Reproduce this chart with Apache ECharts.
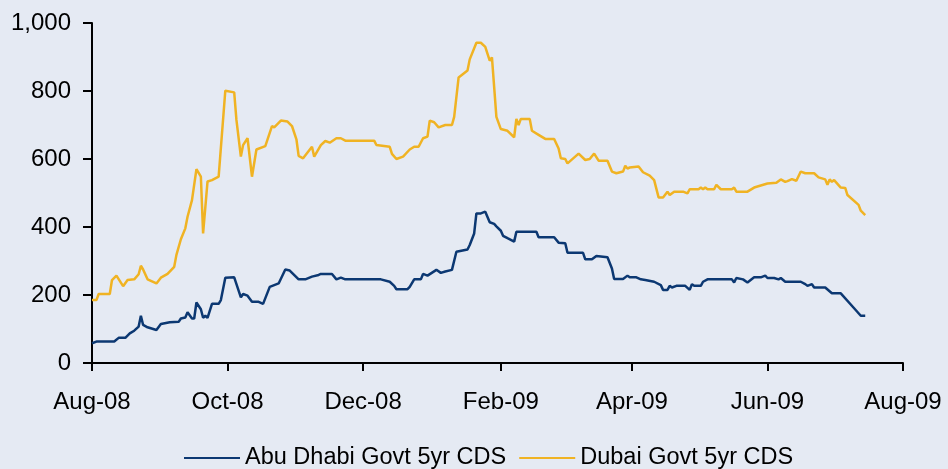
<!DOCTYPE html>
<html>
<head>
<meta charset="utf-8">
<title>Abu Dhabi vs Dubai Govt 5yr CDS</title>
<script src="https://cdn.jsdelivr.net/npm/echarts@6/dist/echarts.min.js"></script>
<style>
  html, body { margin: 0; padding: 0; background: #e5eaf3; }
  #chart { width: 948px; height: 469px; }
</style>
</head>
<body>
<div id="chart"></div>
<script>
// Abu Dhabi Govt 5yr CDS (bp)
const abuDates = [
  '2008-08-01','2008-08-03','2008-08-11','2008-08-13','2008-08-16','2008-08-18','2008-08-20','2008-08-22','2008-08-23','2008-08-24',
  '2008-08-26','2008-08-30','2008-09-01','2008-09-05','2008-09-09','2008-09-10','2008-09-12','2008-09-13','2008-09-15','2008-09-16',
  '2008-09-17','2008-09-19','2008-09-20','2008-09-21','2008-09-22','2008-09-24','2008-09-27','2008-09-28','2008-09-30','2008-10-04',
  '2008-10-07','2008-10-08','2008-10-10','2008-10-12','2008-10-15','2008-10-17','2008-10-20','2008-10-22','2008-10-24','2008-10-27',
  '2008-10-29','2008-11-02','2008-11-05','2008-11-08','2008-11-11','2008-11-12','2008-11-17','2008-11-19','2008-11-21','2008-11-23',
  '2008-12-09','2008-12-13','2008-12-15','2008-12-16','2008-12-21','2008-12-22','2008-12-24','2008-12-27','2008-12-28','2008-12-30',
  '2009-01-03','2009-01-05','2009-01-07','2009-01-10','2009-01-12','2009-01-17','2009-01-18','2009-01-20','2009-01-21','2009-01-23',
  '2009-01-25','2009-01-27','2009-01-29','2009-01-30','2009-02-01','2009-02-02','2009-02-04','2009-02-07','2009-02-08','2009-02-17',
  '2009-02-18','2009-02-25','2009-02-27','2009-03-02','2009-03-03','2009-03-10','2009-03-11','2009-03-14','2009-03-16','2009-03-21',
  '2009-03-23','2009-03-24','2009-03-28','2009-03-30','2009-03-31','2009-04-03','2009-04-05','2009-04-07','2009-04-11','2009-04-14',
  '2009-04-15','2009-04-17','2009-04-18','2009-04-19','2009-04-21','2009-04-25','2009-04-27','2009-04-28','2009-04-29','2009-05-02',
  '2009-05-03','2009-05-05','2009-05-16','2009-05-17','2009-05-18','2009-05-21','2009-05-23','2009-05-26','2009-05-29','2009-05-31',
  '2009-06-01','2009-06-04','2009-06-06','2009-06-07','2009-06-09','2009-06-16','2009-06-18','2009-06-19','2009-06-21','2009-06-22',
  '2009-06-27','2009-06-30','2009-07-04','2009-07-10','2009-07-13','2009-07-15'
];
const abuValues = [
  58, 63, 63, 74, 74, 87, 95, 107, 139, 112,
  105, 97, 115, 120, 121, 131, 134, 149, 131, 131,
  178, 158, 133, 139, 133, 174, 174, 185, 251, 252,
  193, 203, 198, 180, 180, 174, 224, 229, 234, 275,
  272, 246, 246, 254, 259, 262, 262, 246, 251, 246,
  246, 239, 227, 217, 217, 224, 246, 246, 262, 257,
  274, 265, 269, 274, 327, 334, 347, 381, 440, 440,
  445, 414, 409, 402, 389, 374, 367, 357, 386, 386,
  370, 370, 354, 352, 324, 324, 305, 305, 315, 311,
  278, 247, 247, 257, 252, 252, 246, 244, 239, 229,
  215, 215, 227, 222, 227, 227, 215, 232, 227, 227,
  239, 246, 246, 237, 250, 246, 237, 252, 252, 257,
  250, 250, 246, 250, 239, 239, 232, 227, 232, 222,
  222, 205, 205, 161, 139, 139
];

// Dubai Govt 5yr CDS (bp)
const dubaiDates = [
  '2008-08-01','2008-08-03','2008-08-04','2008-08-09','2008-08-10','2008-08-12','2008-08-15','2008-08-17','2008-08-20','2008-08-22',
  '2008-08-23','2008-08-24','2008-08-26','2008-08-30','2008-09-01','2008-09-04','2008-09-07','2008-09-08','2008-09-10','2008-09-12',
  '2008-09-13','2008-09-15','2008-09-17','2008-09-19','2008-09-20','2008-09-22','2008-09-24','2008-09-27','2008-09-30','2008-10-04',
  '2008-10-05','2008-10-07','2008-10-08','2008-10-10','2008-10-12','2008-10-14','2008-10-18','2008-10-21','2008-10-22','2008-10-25',
  '2008-10-28','2008-10-30','2008-11-01','2008-11-02','2008-11-04','2008-11-08','2008-11-09','2008-11-12','2008-11-14','2008-11-16',
  '2008-11-19','2008-11-21','2008-11-23','2008-12-06','2008-12-07','2008-12-13','2008-12-14','2008-12-16','2008-12-19','2008-12-22',
  '2008-12-24','2008-12-26','2008-12-28','2008-12-30','2008-12-31','2009-01-02','2009-01-04','2009-01-07','2009-01-10','2009-01-11',
  '2009-01-13','2009-01-17','2009-01-18','2009-01-21','2009-01-23','2009-01-25','2009-01-27','2009-01-28','2009-01-30','2009-02-01',
  '2009-02-04','2009-02-07','2009-02-08','2009-02-09','2009-02-10','2009-02-14','2009-02-15','2009-02-18','2009-02-21','2009-02-25',
  '2009-02-27','2009-02-28','2009-03-02','2009-03-03','2009-03-08','2009-03-11','2009-03-13','2009-03-15','2009-03-17','2009-03-21',
  '2009-03-23','2009-03-25','2009-03-28','2009-03-29','2009-03-30','2009-03-31','2009-04-04','2009-04-06','2009-04-09','2009-04-11',
  '2009-04-13','2009-04-15','2009-04-17','2009-04-18','2009-04-20','2009-04-24','2009-04-26','2009-04-27','2009-05-01','2009-05-02',
  '2009-05-03','2009-05-04','2009-05-05','2009-05-08','2009-05-09','2009-05-11','2009-05-16','2009-05-17','2009-05-18','2009-05-23',
  '2009-05-26','2009-05-29','2009-06-01','2009-06-05','2009-06-07','2009-06-09','2009-06-10','2009-06-12','2009-06-14','2009-06-16',
  '2009-06-18','2009-06-22','2009-06-24','2009-06-27','2009-06-28','2009-06-29','2009-06-30','2009-07-01','2009-07-04','2009-07-06',
  '2009-07-07','2009-07-12','2009-07-13','2009-07-15'
];
const dubaiValues = [
  185, 185, 203, 203, 244, 257, 226, 244, 246, 261,
  286, 275, 246, 234, 251, 262, 283, 318, 364, 396,
  430, 479, 570, 548, 381, 534, 538, 548, 801, 796,
  715, 607, 641, 661, 548, 628, 638, 697, 693, 713,
  710, 697, 658, 609, 602, 636, 607, 641, 653, 648,
  661, 661, 654, 654, 641, 636, 615, 600, 607, 628,
  636, 636, 661, 666, 713, 708, 693, 700, 700, 724,
  840, 860, 893, 942, 942, 930, 889, 899, 724, 688,
  683, 664, 718, 700, 718, 718, 683, 671, 659, 659,
  631, 602, 600, 587, 616, 597, 600, 616, 595, 595,
  563, 558, 563, 580, 572, 575, 578, 561, 551, 538,
  487, 487, 504, 494, 504, 504, 499, 511, 511, 516,
  511, 516, 511, 511, 524, 511, 511, 516, 504, 504,
  516, 522, 528, 530, 540, 533, 535, 541, 536, 563,
  558, 558, 546, 540, 524, 540, 533, 538, 516, 515,
  494, 465, 448, 435
];

// x axis ticks, every two months
const tickDates = ['2008-08-01', '2008-10-01', '2008-12-01', '2009-02-01', '2009-04-01', '2009-06-01', '2009-08-01'];
const tickLabels = ['Aug-08', 'Oct-08', 'Dec-08', 'Feb-09', 'Apr-09', 'Jun-09', 'Aug-09'];
const yTicks = [0, 200, 400, 600, 800, 1000];

const seriesNames = ['Abu Dhabi Govt 5yr CDS', 'Dubai Govt 5yr CDS'];
const colors = ['#0c3872', '#f0b323'];

// dates -> ms timestamps (plotted on a numeric axis so ticks can sit on given dates)
function toTime(s) {
  const p = s.split('-');
  return new Date(+p[0], +p[1] - 1, +p[2]).getTime();
}
const tickTimes = tickDates.map(toTime);

const chart = echarts.init(document.getElementById('chart'), null, { renderer: 'canvas' });
const font = 'Liberation Sans, Arial, sans-serif';

const option = {
  backgroundColor: '#e5eaf3',
  animation: false,
  color: colors,
  textStyle: { fontFamily: font },
  grid: { left: 92, right: 45, top: 23, bottom: 106 },
  legend: {
    left: 184,
    top: 446,
    padding: 0,
    icon: 'rect',
    itemWidth: 56,
    itemHeight: 2,
    itemGap: 13,
    textStyle: { fontSize: 23.5, color: '#000', fontFamily: font },
    data: seriesNames
  },
  xAxis: {
    type: 'value',
    min: tickTimes[0],
    max: tickTimes[tickTimes.length - 1],
    splitLine: { show: false },
    axisLine: { lineStyle: { color: '#000', width: 2 } },
    axisTick: {
      show: true, length: 8, inside: false,
      customValues: tickTimes,
      lineStyle: { color: '#000', width: 2 }
    },
    axisLabel: {
      customValues: tickTimes,
      margin: 27,
      fontSize: 24,
      color: '#000',
      fontFamily: font,
      formatter: function (val) {
        const i = tickTimes.indexOf(val);
        return i >= 0 ? tickLabels[i] : '';
      }
    }
  },
  yAxis: {
    type: 'value',
    min: yTicks[0],
    max: yTicks[yTicks.length - 1],
    interval: 200,
    splitLine: { show: false },
    axisLine: { show: true, lineStyle: { color: '#000', width: 2 } },
    axisTick: { show: true, length: 9, lineStyle: { color: '#000', width: 2 } },
    axisLabel: {
      margin: 21,
      fontSize: 24,
      color: '#000',
      fontFamily: font,
      formatter: function (v) { return v.toLocaleString('en-US'); }
    }
  },
  series: [
    {
      name: seriesNames[0],
      type: 'line',
      showSymbol: false,
      lineStyle: { width: 2.5, color: colors[0] },
      data: abuDates.map(function (d, i) { return [toTime(d), abuValues[i]]; })
    },
    {
      name: seriesNames[1],
      type: 'line',
      showSymbol: false,
      lineStyle: { width: 2.5, color: colors[1] },
      data: dubaiDates.map(function (d, i) { return [toTime(d), dubaiValues[i]]; })
    }
  ]
};

chart.setOption(option);
</script>
</body>
</html>
